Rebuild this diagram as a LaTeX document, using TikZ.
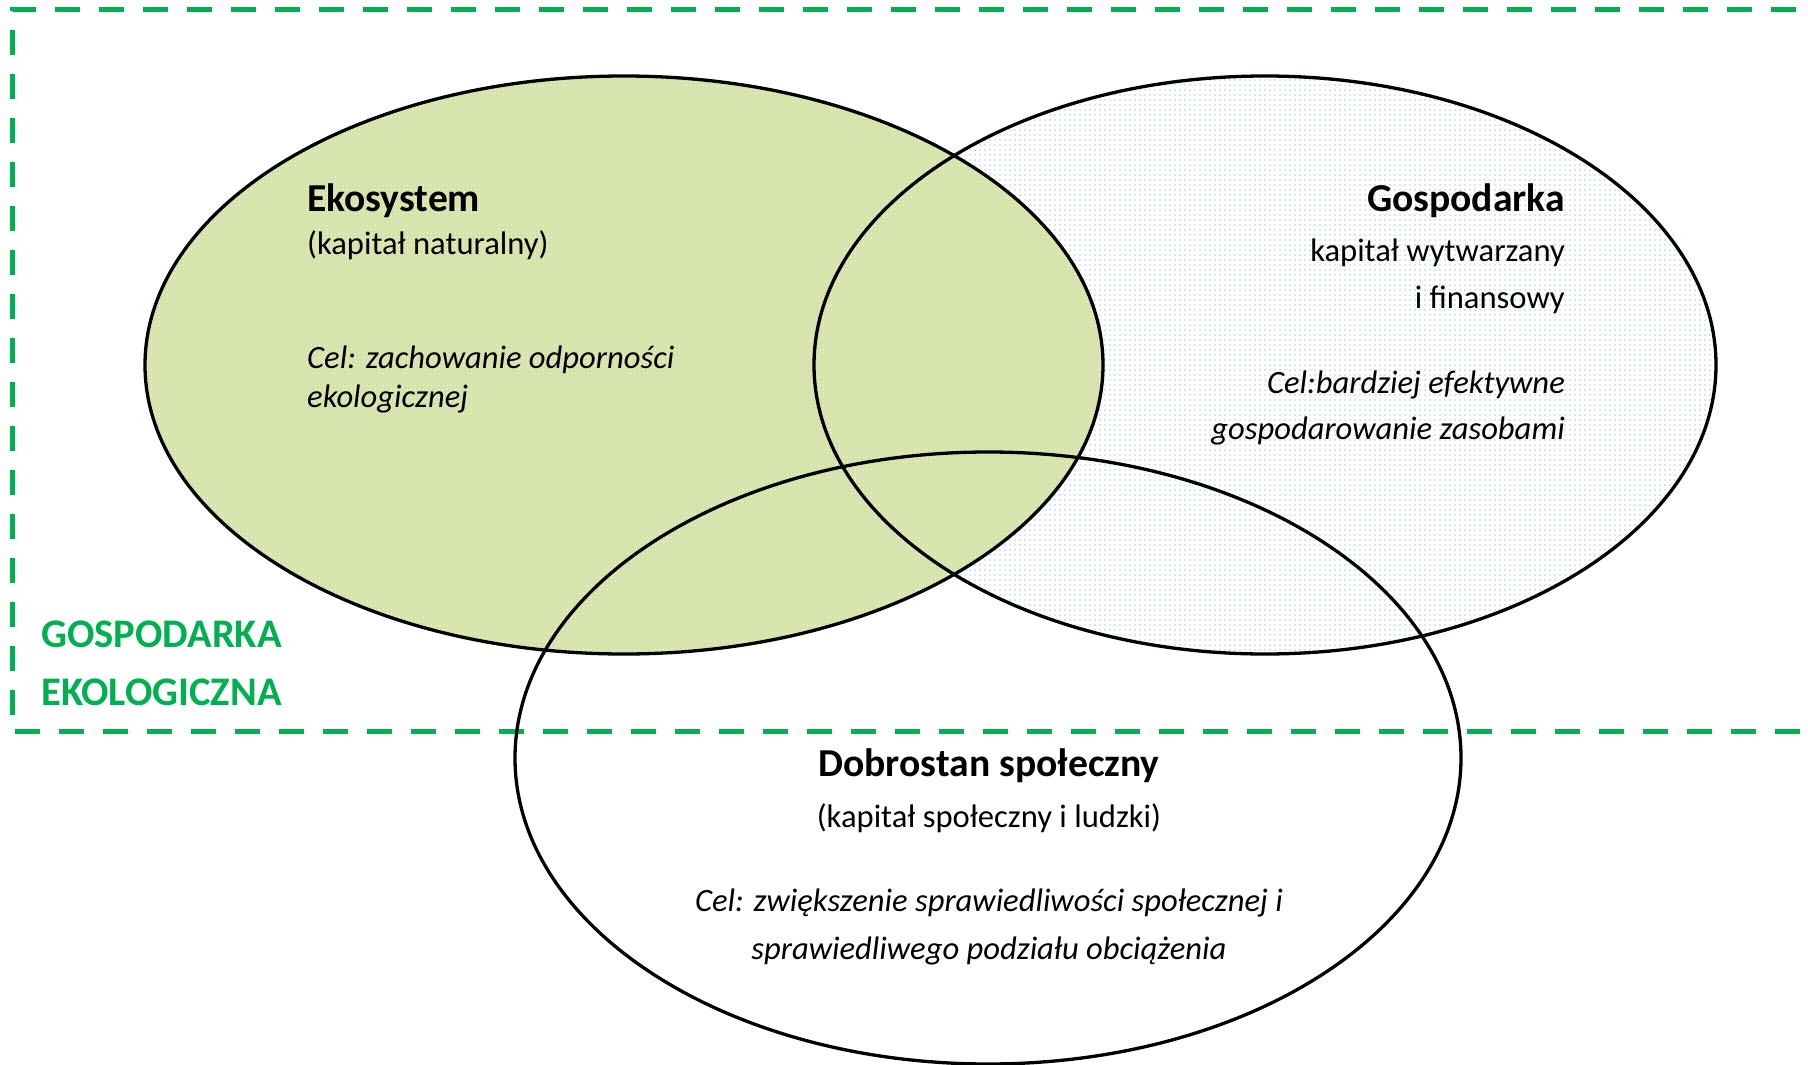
\documentclass[tikz,border=0pt]{standalone}
\usepackage{fontspec}
\setmainfont{Carlito}
\usetikzlibrary{patterns.meta}
\definecolor{ecogreen}{RGB}{0,176,80}
\definecolor{olivefill}{RGB}{214,227,170}
\definecolor{dotblue}{RGB}{170,205,235}
\begin{document}
\begin{tikzpicture}[x=1pt,y=-1pt,
  circ/.style={draw=black,line width=3.3pt},
  title/.style={font=\fontsize{39.6}{47}\selectfont\bfseries,inner sep=0pt},
  body/.style={font=\fontsize{32.6}{38}\selectfont,inner sep=0pt},
  goal/.style={font=\fontsize{32.6}{38}\selectfont\itshape,inner sep=0pt},
  label/.style={font=\fontsize{40.6}{47}\selectfont\bfseries,text=ecogreen,inner sep=0pt},
  frame/.style={draw=ecogreen,line width=5pt,dash pattern=on 25pt off 19pt}]
\useasboundingbox (0,0) rectangle (1808,1065);
% frame (open to the right)
\begin{scope}
\clip (0,0) rectangle (1808,1065);
\draw[frame] (1840,10) -- (12,10) -- (12,731) -- (1840,731);
\end{scope}
% fills
\fill[white] (1265,365) ellipse [x radius=451, y radius=289];
\fill[pattern={Dots[distance=5pt,radius=0.8pt]},pattern color=dotblue] (1265,365) ellipse [x radius=451, y radius=289];
\fill[olivefill] (624,365) ellipse [x radius=479, y radius=289];
\fill[pattern={Dots[distance=4pt,radius=0.9pt]},pattern color=white!60!olivefill] (624,365) ellipse [x radius=479, y radius=289];
% outlines
\draw[circ] (624,365) ellipse [x radius=479, y radius=289];
\draw[circ] (1265,365) ellipse [x radius=451, y radius=289];
\draw[circ] (988,758) ellipse [x radius=473, y radius=306];
% Ekosystem
\node[title,anchor=base west] (eko) at (307,211) {Ekosystem};
\node[body,anchor=base west] (ekocap) at (307,254) {(kapitał naturalny)};
\node[goal,anchor=base west] (ekogoal1) at (307,368) {Cel: zachowanie odporności};
\node[goal,anchor=base west] (ekogoal2) at (307,407) {ekologicznej};
% Gospodarka
\node[title,anchor=base east] (gosp) at (1565,211) {Gospodarka};
\node[body,anchor=base east] (gospcap1) at (1565,261) {kapitał wytwarzany};
\node[body,anchor=base east] (gospcap2) at (1565,308) {i finansowy};
\node[goal,anchor=base east] (gospgoal1) at (1565,393) {Cel:bardziej efektywne};
\node[goal,anchor=base east] (gospgoal2) at (1565,439) {gospodarowanie zasobami};
% Dobrostan
\node[title,anchor=base] (dob) at (989,776) {Dobrostan społeczny};
\node[body,anchor=base] (dobcap) at (989,827) {(kapitał społeczny i ludzki)};
\node[goal,anchor=base] (dobgoal1) at (989,911) {Cel: zwiększenie sprawiedliwości społecznej i};
\node[goal,anchor=base] (dobgoal2) at (989,959) {sprawiedliwego podziału obciążenia};
% label
\node[label,anchor=base west] (ge1) at (41,647) {GOSPODARKA};
\node[label,anchor=base west] (ge2) at (41,705) {EKOLOGICZNA};
\end{tikzpicture}
\end{document}
